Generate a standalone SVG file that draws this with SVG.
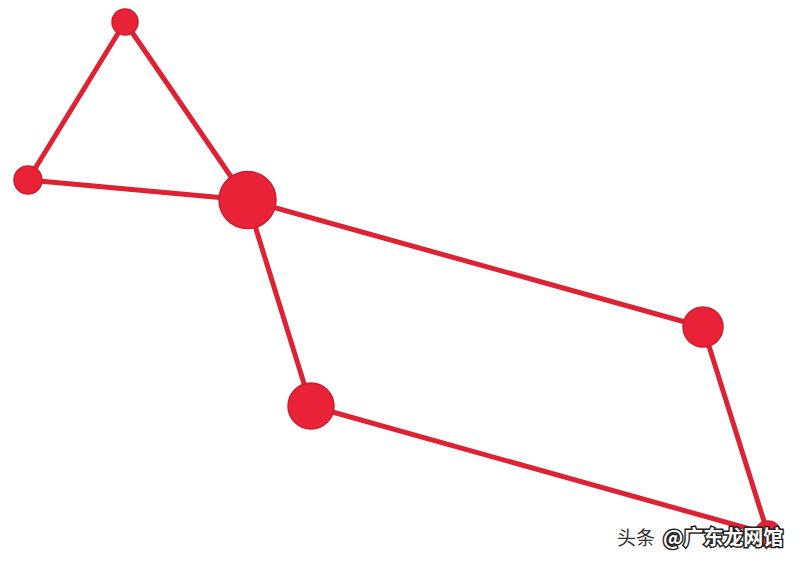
<svg xmlns="http://www.w3.org/2000/svg" width="800" height="562" viewBox="0 0 800 562">
<style>
.e{stroke:#dd2233;stroke-width:5;stroke-linecap:round;fill:none}
.n{fill:#ea2238;stroke:#cc1f30;stroke-width:1.5}
.wm1{font-family:"Noto Sans CJK SC","Noto Sans",sans-serif;font-size:19px;fill:#333}
.wm2{font-family:"Noto Sans CJK SC","Noto Sans",sans-serif;font-size:20px;fill:#fff;stroke:#222;stroke-width:3;paint-order:stroke;font-weight:bold}
</style>
<rect width="800" height="562" fill="#fff"/>
<g id="edges">
<line class="e" x1="125" y1="22" x2="247" y2="200"/>
<line class="e" x1="125" y1="22" x2="28" y2="180"/>
<line class="e" x1="28" y1="180" x2="247" y2="200"/>
<line class="e" x1="247" y1="200" x2="703" y2="327"/>
<line class="e" x1="247" y1="200" x2="311" y2="406"/>
<line class="e" x1="311" y1="406" x2="768" y2="534"/>
<line class="e" x1="703" y1="327" x2="768" y2="534"/>
</g>
<g id="n1"><circle class="n" cx="125" cy="22" r="13"/></g>
<g id="n2"><circle class="n" cx="28" cy="180" r="14"/></g>
<g id="n3"><circle class="n" cx="247.5" cy="200" r="28.5"/></g>
<g id="n4"><circle class="n" cx="703" cy="327" r="20"/></g>
<g id="n5"><circle class="n" cx="311" cy="406" r="23"/></g>
<g id="n6"><circle class="n" cx="768" cy="534" r="13"/></g>
<g id="watermark">
<text class="wm1" x="617" y="545">头条</text>
<text class="wm2" x="663" y="545">@广东龙网馆</text>
</g>
</svg>
